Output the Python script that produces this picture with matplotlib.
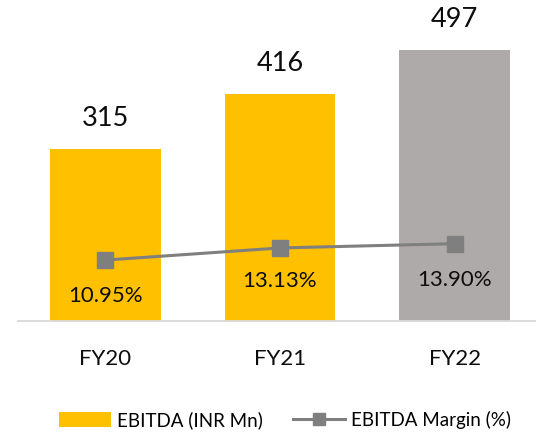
import matplotlib
matplotlib.use("Agg")
import matplotlib.pyplot as plt
from matplotlib.patches import Patch
from matplotlib.lines import Line2D

# data
years = ["FY20", "FY21", "FY22"]
ebitda = [315, 416, 497]
margin = [10.95, 13.13, 13.90]

GOLD = "#FFC000"
GREY_BAR = "#AEAAAA"
LINE_GREY = "#7F7F7F"
TEXT = "#0D0D0D"

plt.rcParams["font.family"] = ["Lato", "DejaVu Sans"]

fig = plt.figure(figsize=(5.36, 4.36), dpi=100)
fig.patch.set_facecolor("white")

# axes spans 18..542 px horizontally, baseline at y=321 px
ax = fig.add_axes([18 / 536, (436 - 321) / 436, 524 / 536, 321 / 436])
x = list(range(len(years)))
colors = [GOLD, GOLD, GREY_BAR]
bars = ax.bar(x, ebitda, width=0.635, color=colors, zorder=2)
ax.set_xlim(-0.5, len(years) - 0.5)
ax.set_ylim(0, 589)

for xi, v in zip(x, ebitda):
    ax.annotate(f"{v}", xy=(xi, v), xytext=(0, 31), textcoords="offset pixels",
                ha="center", va="center", fontsize=19.5, color=TEXT)

for s in ["top", "right", "left"]:
    ax.spines[s].set_visible(False)
ax.spines["bottom"].set_color("#D9D9D9")
ax.spines["bottom"].set_linewidth(1.3)
ax.set_yticks([])
ax.set_xticks(x)
ax.set_xticklabels(years, fontsize=16, color=TEXT)
ax.tick_params(axis="x", length=0, pad=20)

ax2 = ax.twinx()
ax2.set_ylim(0, 57.7)
ax2.plot(x, margin, color=LINE_GREY, linewidth=2.2, marker="s", markersize=11.5,
         zorder=3)
ax2.set_yticks([])
for s in ax2.spines.values():
    s.set_visible(False)

offsets = [-36, -33, -36]
for xi, m, off in zip(x, margin, offsets):
    ax2.annotate(f"{m:.2f}%", xy=(xi, m), xytext=(0, off), textcoords="offset pixels",
                 ha="center", va="center", fontsize=16, color=TEXT)

handles = [
    Patch(facecolor=GOLD, label="EBITDA (INR Mn)"),
    Line2D([0], [0], color=LINE_GREY, linewidth=2.2, marker="s", markersize=8.5,
           label="EBITDA Margin (%)"),
]
fig.legend(handles=handles, loc="center", bbox_to_anchor=(285 / 536, 1 - 420 / 436),
           ncol=2, frameon=False, fontsize=13.5, handlelength=2.8, handleheight=0.9,
           columnspacing=1.6, handletextpad=0.3)

fig.savefig("out.png", dpi=100, facecolor="white")
